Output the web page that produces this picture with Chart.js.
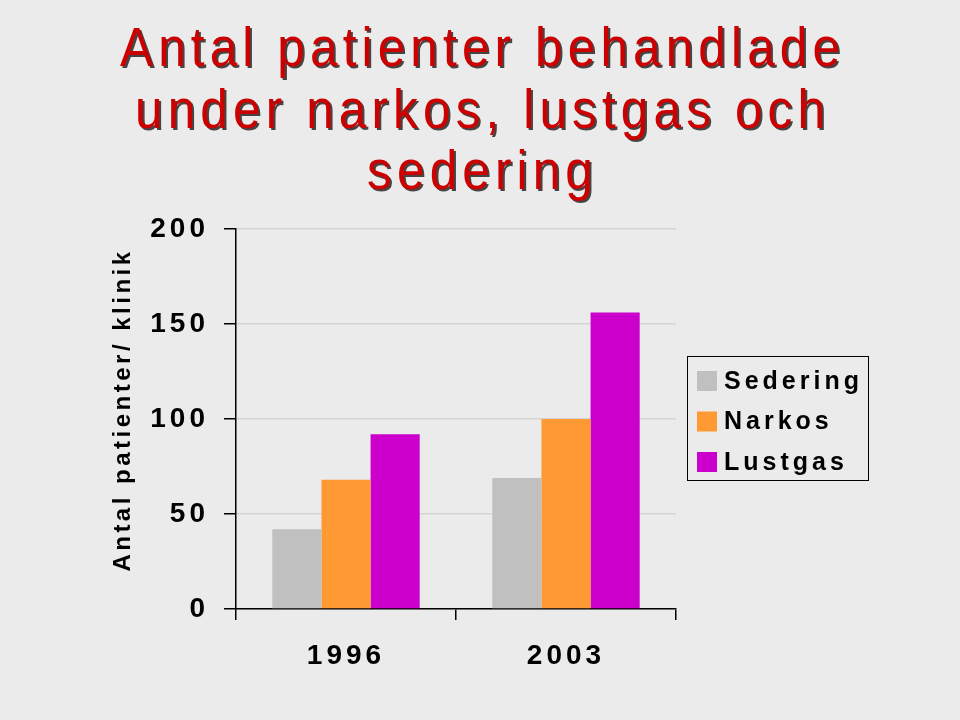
<!DOCTYPE html>
<html>
<head>
<meta charset="utf-8">
<script src="https://cdn.jsdelivr.net/npm/chart.js@4/dist/chart.umd.min.js"></script>
<style>
  html, body { margin: 0; padding: 0; background: #ebebeb; }
  #wrap { width: 960px; height: 720px; }
</style>
</head>
<body>
<div id="wrap"><canvas id="chart" width="960" height="720"></canvas></div>
<script>
// ===== Data =====
const years = ['1996', '2003'];
const sedering = [42, 69];
const narkos = [68, 100];
const lustgas = [92, 156];
const yTicks = [0, 50, 100, 150, 200];
const titleLines = ['Antal patienter behandlade', 'under narkos, lustgas och', 'sedering'];
const yTitle = 'Antal patienter/ klinik';

// ===== Color Tokens =====
const colors = {
  sedering: '#c0c0c0',
  narkos: '#ff9933',
  lustgas: '#cc00cc',
};

const FONT = "'Liberation Sans', Arial, sans-serif";
const TITLE_FONT = "55px 'Liberation Sans', Arial, sans-serif";
const SQUEEZE = 0.9; // the slide title uses a slightly condensed face

// spacing like the expanded text of the original slide
const spacingPlugin = {
  id: 'spacing',
  beforeDraw(chart) { chart.ctx.letterSpacing = '4px'; },
  beforeLayout(chart) { chart.ctx.letterSpacing = '4px'; },
};

// title with shadow, y title, boxed legend on the right
const decorPlugin = {
  id: 'decor',
  afterDraw(chart) {
    const ctx = chart.ctx;

    // condensed title, letters spread so line 1 is ~720px wide
    ctx.save();
    ctx.letterSpacing = '0px';
    ctx.font = TITLE_FONT;
    const w = ctx.measureText(titleLines[0]).width * SQUEEZE;
    const gap = (720 - w) / (titleLines[0].length - 1);
    ctx.restore();

    ctx.save();
    ctx.translate(480 + gap / 2, 0);
    ctx.scale(SQUEEZE, 1);
    ctx.font = TITLE_FONT;
    ctx.letterSpacing = (gap / SQUEEZE).toFixed(2) + 'px';
    ctx.textAlign = 'center';
    ctx.textBaseline = 'alphabetic';
    ctx.fillStyle = '#cc0000';
    ctx.shadowColor = 'rgba(40,40,40,0.85)';
    ctx.shadowOffsetX = 2;
    ctx.shadowOffsetY = 2;
    titleLines.forEach((line, i) => {
      ctx.fillText(line, 0, 66 + i * 61.5);
    });
    ctx.restore();

    // y axis title
    ctx.save();
    ctx.translate(130, 412);
    ctx.rotate(-Math.PI / 2);
    ctx.font = 'bold 24px ' + FONT;
    ctx.letterSpacing = '3.5px';
    ctx.textAlign = 'center';
    ctx.textBaseline = 'alphabetic';
    ctx.fillStyle = '#000';
    ctx.fillText(yTitle, 2, 0);
    ctx.restore();

    // legend
    ctx.save();
    ctx.strokeStyle = '#000';
    ctx.lineWidth = 1;
    ctx.strokeRect(687.5, 356.5, 181, 124);
    ctx.font = 'bold 25px ' + FONT;
    ctx.letterSpacing = '4px';
    ctx.textBaseline = 'middle';
    chart.data.datasets.forEach((ds, i) => {
      const cy = 381 + i * 40.5;
      ctx.fillStyle = ds.backgroundColor;
      ctx.fillRect(697, cy - 10, 20, 20);
      ctx.fillStyle = '#000';
      ctx.fillText(ds.label, 724, cy + 1);
    });
    ctx.restore();
  }
};

const ctx = document.getElementById('chart');
new Chart(ctx.getContext('2d'), {
  type: 'bar',
  data: {
    labels: years,
    datasets: [
      { label: 'Sedering', data: sedering, backgroundColor: colors.sedering },
      { label: 'Narkos', data: narkos, backgroundColor: colors.narkos },
      { label: 'Lustgas', data: lustgas, backgroundColor: colors.lustgas },
    ]
  },
  options: {
    responsive: false,
    animation: false,
    devicePixelRatio: 1,
    layout: { padding: { left: 96, top: 229, right: 284, bottom: 51 } },
    datasets: { bar: { categoryPercentage: 0.67, barPercentage: 1.0 } },
    plugins: {
      legend: { display: false },
      title: { display: false },
      tooltip: { enabled: false },
    },
    scales: {
      x: {
        afterFit(scale) { scale.height = 60; },
        grid: {
          offset: true,
          drawOnChartArea: false,
          drawTicks: true,
          tickLength: 11,
          color: '#000',
          tickColor: '#000',
          lineWidth: 1.5,
        },
        border: { display: true, color: '#000', width: 1.5 },
        ticks: {
          color: '#000',
          padding: 19,
          font: { family: FONT, size: 28, weight: 'bold' },
        },
      },
      y: {
        min: 0,
        max: 200,
        afterFit(scale) { scale.width = 140; },
        afterBuildTicks(scale) { scale.ticks = yTicks.map(v => ({ value: v })); },
        grid: {
          color: '#d4d4d4',
          lineWidth: 1.5,
          tickLength: 12,
          tickColor: '#000',
        },
        border: { display: true, color: '#000', width: 1.5 },
        ticks: {
          color: '#000',
          padding: 15,
          font: { family: FONT, size: 28, weight: 'bold' },
        },
      }
    }
  },
  plugins: [spacingPlugin, decorPlugin]
});
</script>
</body>
</html>
